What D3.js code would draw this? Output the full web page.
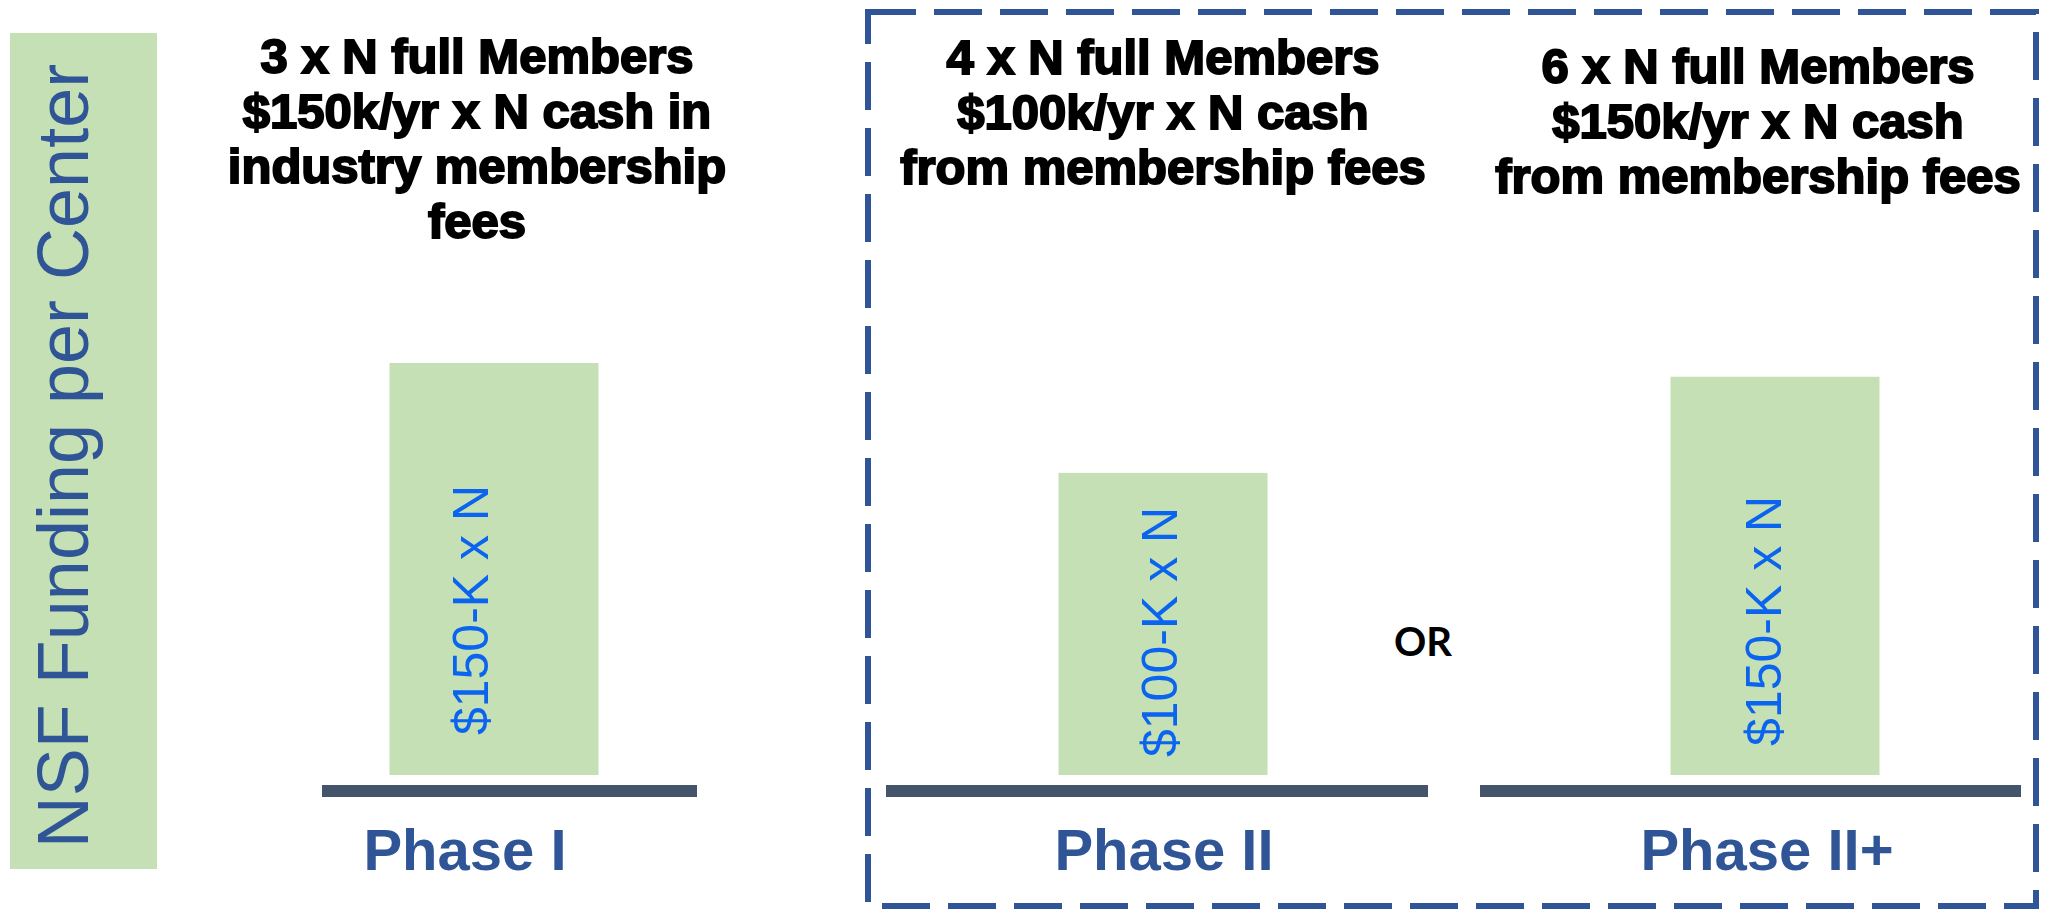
<!DOCTYPE html>
<html>
<head>
<meta charset="utf-8">
<script src="https://cdn.jsdelivr.net/npm/d3@7"></script>
<style>
  body { margin: 0; background: #fff; }
  svg { display: block; }
</style>
</head>
<body>
<div id="chart"></div>
<script>
// data
var phases = ["Phase I", "Phase II", "Phase II+"];
var funding = [150, 110, 145];          // relative NSF funding (bar heights)
var barLabels = ["$150-K x N", "$100-K x N", "$150-K x N"];
var headers = [
    ["3 x N full Members", "$150k/yr x N cash in", "industry membership", "fees"],
    ["4 x N full Members", "$100k/yr x N cash", "from membership fees"],
    ["6 x N full Members", "$150k/yr x N cash", "from membership fees"]
];
var yLabel = "NSF Funding per Center";
var orText = "OR";

var WIDTH = 2049, HEIGHT = 911;
var GREEN = "#C5E0B4", BLUE = "#2F5597";

var svg = d3.select("#chart").append("svg")
    .attr("width", WIDTH)
    .attr("height", HEIGHT);

// scales
var x = d3.scaleOrdinal()
    .domain(phases)
    .range([494, 1163, 1775]);

var y = d3.scaleLinear()
    .domain([0, 150])
    .range([775, 363]);

var barWidth = 209;

// baseline extents per phase, relative to bar centre
var baseExt = [[-172, 203], [-277, 265], [-295, 246]];
var headerShift = [-17, 0, -17];
var headerTop = [73, 74, 83];
var phaseShift = [-29, 1, -8];
var labelShift = [[-6, 41], [14, 8], [6, 45]];

// y label panel
svg.append("rect")
    .attr("x", 10)
    .attr("y", 33)
    .attr("width", 147)
    .attr("height", 836)
    .attr("fill", GREEN);

svg.append("text")
    .attr("transform", "translate(88,456) rotate(-90)")
    .style("text-anchor", "middle")
    .style("font-family", "'Liberation Sans', Arial, sans-serif")
    .style("font-size", "72px")
    .style("fill", BLUE)
    .text(yLabel);

// dashed box round phase II options
svg.append("rect")
    .attr("x", 868)
    .attr("y", 12)
    .attr("width", 1168)
    .attr("height", 894)
    .attr("fill", "none")
    .attr("stroke", BLUE)
    .attr("stroke-width", 6)
    .attr("stroke-dasharray", "48,18");

// bars
svg.selectAll(".bar")
    .data(funding)
    .enter().append("rect")
    .attr("class", "bar")
    .attr("x", function(d, i) { return x(phases[i]) - barWidth / 2; })
    .attr("y", function(d) { return y(d); })
    .attr("width", barWidth)
    .attr("height", function(d) { return y(0) - y(d); })
    .attr("fill", GREEN);

// base lines
svg.selectAll(".base")
    .data(phases)
    .enter().append("line")
    .attr("class", "base")
    .attr("x1", function(d, i) { return x(d) + baseExt[i][0]; })
    .attr("x2", function(d, i) { return x(d) + baseExt[i][1]; })
    .attr("y1", y(0) + 16)
    .attr("y2", y(0) + 16)
    .attr("stroke", "#44546A")
    .attr("stroke-width", 12);

// bar value labels
svg.selectAll(".bar-label")
    .data(barLabels)
    .enter().append("text")
    .attr("class", "bar-label")
    .attr("transform", function(d, i) {
        var cx = x(phases[i]) + labelShift[i][0];
        var cy = (y(funding[i]) + y(0)) / 2 + labelShift[i][1];
        return "translate(" + cx + "," + cy + ") rotate(-90)";
    })
    .style("text-anchor", "middle")
    .style("font-family", "'Liberation Sans', Arial, sans-serif")
    .style("font-size", "50px")
    .style("fill", "#0A64F0")
    .text(function(d) { return d; });

// phase names
svg.selectAll(".phase")
    .data(phases)
    .enter().append("text")
    .attr("class", "phase")
    .attr("x", function(d, i) { return x(d) + phaseShift[i]; })
    .attr("y", 870)
    .style("text-anchor", "middle")
    .style("font-family", "'Liberation Sans', Arial, sans-serif")
    .style("font-weight", "bold")
    .style("font-size", "58px")
    .style("fill", BLUE)
    .text(function(d) { return d; });

// headers
var head = svg.selectAll(".header")
    .data(headers)
    .enter().append("text")
    .attr("class", "header")
    .style("text-anchor", "middle")
    .style("font-family", "'Liberation Sans', Arial, sans-serif")
    .style("font-weight", "bold")
    .style("font-size", "49px")
    .style("fill", "#000")
    .style("stroke", "#000")
    .style("stroke-width", "2px");

head.each(function(lines, i) {
    var cx = x(phases[i]) + headerShift[i];
    d3.select(this).selectAll("tspan")
        .data(lines)
        .enter().append("tspan")
        .attr("x", cx)
        .attr("y", function(d, j) { return headerTop[i] + j * 55; })
        .text(function(d) { return d; });
});

// OR between the two phase II options
svg.append("text")
    .attr("x", 1423)
    .attr("y", 656)
    .style("text-anchor", "middle")
    .style("font-family", "Lato, 'Open Sans', sans-serif")
    .style("font-weight", "bold")
    .style("font-size", "40px")
    .style("fill", "#000")
    .text(orText);
</script>
</body>
</html>
